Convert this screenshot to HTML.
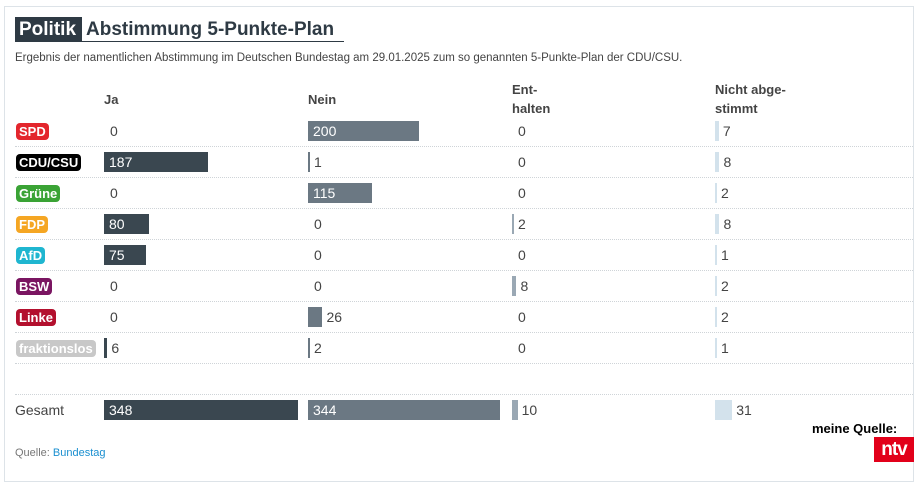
<!DOCTYPE html>
<html><head><meta charset="utf-8"><style>
*{margin:0;padding:0;box-sizing:border-box}
body{width:923px;height:487px;background:#fff;font-family:"Liberation Sans",sans-serif;position:relative;overflow:hidden;color:#333}
.a{position:absolute;white-space:nowrap}
.frame{left:4px;top:6px;width:910px;height:476px;border:1px solid #dde3e8}
.pill{position:absolute;height:17px;border-radius:4px;color:#fff;font-weight:bold;font-size:13px;line-height:17px;padding:0 3px;letter-spacing:0}
.sep{position:absolute;left:15px;width:898px;border-top:1px dotted #cfd4d8}
.bar{position:absolute;height:20px}
.v{position:absolute;font-size:14px;line-height:20px;color:#444}
.w{color:#fff}
.h{position:absolute;font-size:13px;font-weight:bold;color:#444;line-height:19px}
</style></head><body>
<div class="a frame"></div>
<div class="a" style="left:15px;top:17px;width:67px;height:25px;background:#2e3a44;color:#fff;font-weight:bold;font-size:19px;line-height:25px;padding-left:4px">Politik</div>
<div class="a" style="left:86px;top:17px;font-weight:bold;font-size:19px;line-height:25px;color:#2e3a44">Abstimmung 5-Punkte-Plan</div>
<div class="a" style="left:15px;top:41px;width:329px;border-top:1px solid #2e3a44"></div>
<div class="a" style="left:15px;top:52px;font-size:11.5px;color:#444">Ergebnis der namentlichen Abstimmung im Deutschen Bundestag am 29.01.2025 zum so genannten 5-Punkte-Plan der CDU/CSU.</div>
<div class="h" style="left:104px;top:90px">Ja</div>
<div class="h" style="left:308px;top:90px">Nein</div>
<div class="h" style="left:512px;top:80px">Ent-<br>halten</div>
<div class="h" style="left:715px;top:80px">Nicht abge-<br>stimmt</div>
<div id="rows"></div>
<div class="a" style="left:15px;top:400px;font-size:14px;line-height:20px;color:#444">Gesamt</div>
<div class="a" style="left:15px;top:447px;font-size:11px;color:#777">Quelle: <span style="color:#1a8fd0">Bundestag</span></div>
<div class="a" style="left:812px;top:421px;font-size:13px;font-weight:bold;color:#000">meine Quelle:</div>
<div class="a" style="left:874px;top:437px;width:40px;height:25px;background:#e2001a;color:#fff;font-weight:bold;font-size:19px;line-height:25px;text-align:center;letter-spacing:-1px">ntv</div>
<script>
var parties=[["SPD","#e3262d",0,200,0,7],["CDU/CSU","#000",187,1,0,8],["Grüne","#3aa335",0,115,0,2],["FDP","#f5a623",80,0,2,8],["AfD","#1fb6d0",75,0,0,1],["BSW","#7a1561",0,0,8,2],["Linke","#b3102e",0,26,0,2],["fraktionslos","#c8c8c8",6,2,0,1]];
var cols=[104,308,512,715],colors=["#3a4750","#6b7883","#9aa8b4","#d3e2ec"],k=0.557;
var h="";
function cell(x,top,val,c){var w=val?Math.max(2,val*k):0;var s="";
 if(w)s+='<div class="bar" style="left:'+x+'px;top:'+top+'px;width:'+w+'px;background:'+colors[c]+'"></div>';
 if(w>36&&c<2)s+='<div class="v w" style="left:'+(x+5)+'px;top:'+top+'px">'+val+'</div>';
 else s+='<div class="v" style="left:'+(x+(w?w+4:6))+'px;top:'+top+'px">'+val+'</div>';
 return s;}
parties.forEach(function(p,i){var cy=131+31*i;
 h+='<div class="pill" style="left:16px;top:'+(cy-8)+'px;background:'+p[1]+'">'+p[0]+'</div>';
 for(var c=0;c<4;c++)h+=cell(cols[c],cy-10,p[2+c],c);
 h+='<div class="sep" style="top:'+(cy+15)+'px"></div>';});
h+='<div class="sep" style="top:394px"></div>';
[348,344,10,31].forEach(function(v,c){h+=cell(cols[c],400,v,c);});
document.getElementById("rows").innerHTML=h;
</script>
</body></html>
